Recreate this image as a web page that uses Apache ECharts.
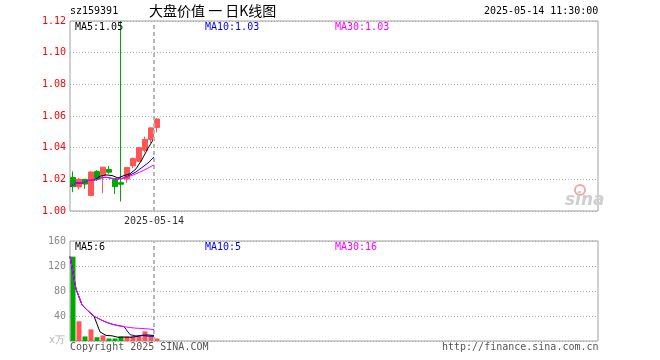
<!DOCTYPE html>
<html><head><meta charset="utf-8">
<script src="https://cdn.jsdelivr.net/npm/echarts@6/dist/echarts.min.js"></script>
<style>html,body{margin:0;padding:0;background:#fff}#c{width:660px;height:360px}</style>
</head><body><div id="c"></div>
<script>
// ---- data ----
const dates = ['2025-04-21','2025-04-22','2025-04-23','2025-04-24','2025-04-25','2025-04-28','2025-04-29','2025-04-30','2025-05-06','2025-05-07','2025-05-08','2025-05-09','2025-05-12','2025-05-13','2025-05-14'];
const opens  = [1.0212,1.0152,1.0200,1.0098,1.0250,1.0223,1.0262,1.0198,1.0179,1.0202,1.0285,1.0314,1.0383,1.0452,1.0527];
const closes = [1.0154,1.0200,1.0170,1.0246,1.0200,1.0277,1.0245,1.0154,1.0169,1.0275,1.0331,1.0400,1.0452,1.0525,1.0581];
const lows   = [1.0119,1.0135,1.0140,1.0093,1.0190,1.0113,1.0235,1.0108,1.0060,1.0177,1.0270,1.0310,1.0370,1.0430,1.0496];
const highs  = [1.0250,1.0210,1.0202,1.0250,1.0258,1.0280,1.0285,1.0200,1.1200,1.0278,1.0338,1.0405,1.0470,1.0530,1.0585];
const ma5  = [1.0154,1.0177,1.0175,1.0193,1.0194,1.0219,1.0228,1.0224,1.0209,1.0224,1.0235,1.0266,1.0325,1.0397,1.0458];
const ma10 = [1.0154,1.0177,1.0175,1.0193,1.0194,1.0208,1.0213,1.0206,1.0202,1.0209,1.0227,1.0247,1.0275,1.0303,1.0341];
const ma30 = [1.0154,1.0177,1.0175,1.0193,1.0194,1.0208,1.0213,1.0206,1.0202,1.0209,1.0220,1.0235,1.0252,1.0271,1.0292];
const volumes = [135,31.5,7.3,18.6,6,8.9,4,4,7.3,7.3,7.3,8.9,15.4,8.9,4];
const vma5  = [135,83.3,57.9,48.1,39.7,14.5,9.0,8.3,6.0,6.3,6.0,7.0,9.2,9.6,8.9];
const vma10 = [135,83.3,57.9,48.1,39.7,34.6,30.2,26.9,24.7,23.0,10.2,8.0,8.8,7.8,7.6];
const vma30 = [135,83.3,57.9,48.1,39.7,34.6,30.2,26.9,24.7,23.0,21.6,20.5,20.1,19.3,18.3];
const priceTicks = {min:1.00, max:1.12, step:0.02};
const volTicks = {min:0, max:160, step:40};
const slotCount = 88;
const markDate = '2025-05-14';
const header = {code:'sz159391', title:'大盘价值 一 日K线图', time:'2025-05-14 11:30:00'};
const priceMaText = ['MA5:1.05','MA10:1.03','MA30:1.03'];
const volMaText = ['MA5:6','MA10:5','MA30:16'];
const footer = ['Copyright 2025 SINA.COM','http://finance.sina.com.cn'];

// ---- build ----
const UP = '#ff5555', DOWN = '#00a800';
const slots = [];
for (let i = 0; i < slotCount + 1; i++) slots.push(i < dates.length ? dates[i] : 'p' + i);
const barSlots = slots.slice(0, slotCount);
const candles = dates.map((d, i) => [opens[i], closes[i], lows[i], highs[i]]);
const volBars = volumes.map((v, i) => ({value: v, itemStyle: {color: closes[i] >= opens[i] ? UP : DOWN}}));
const MONO = "'DejaVu Sans Mono', monospace";
const grid0 = {left: 70, top: 21, width: 528, height: 190};
const grid1 = {left: 70, top: 241, width: 528, height: 100};
const hidden = {show: false};
function lineS(data, color, xi, yi, z) {
  return {type: 'line', data: data, xAxisIndex: xi, yAxisIndex: yi, showSymbol: false, symbol: 'none',
    lineStyle: {color: color, width: 1}, itemStyle: {color: color}, z: z, silent: true, animation: false};
}
function txt(t, left, top, color, font, extra) {
  return Object.assign({type: 'text', left: left, top: top, style: {text: t, fill: color, font: font}, z: 100}, extra || {});
}
const markLine = {silent: true, symbol: 'none', label: {show: false},
  lineStyle: {color: '#b8b8b8', type: [4, 3], width: 2}, data: [{xAxis: markDate}]};

const chart = echarts.init(document.getElementById('c'), null, {renderer: 'canvas'});
chart.setOption({
  animation: false,
  backgroundColor: '#fff',
  grid: [
    Object.assign({show: true, borderColor: '#a0a0a0', borderWidth: 1, backgroundColor: 'transparent'}, grid0),
    Object.assign({show: true, borderColor: '#a0a0a0', borderWidth: 1, backgroundColor: 'transparent'}, grid1)
  ],
  xAxis: [
    {type: 'category', gridIndex: 0, data: barSlots, boundaryGap: true, show: false, position: 'bottom'},
    {type: 'category', gridIndex: 0, data: slots, boundaryGap: false, position: 'bottom', offset: 0,
      axisLine: hidden, axisTick: hidden, splitLine: hidden,
      axisLabel: {show: true, interval: (i, v) => v === markDate, color: '#333',
        fontFamily: MONO, fontSize: 10, margin: 5}},
    {type: 'category', gridIndex: 1, data: barSlots, boundaryGap: true, show: false, position: 'bottom'},
    {type: 'category', gridIndex: 1, data: slots, boundaryGap: false, show: false, position: 'bottom'}
  ],
  yAxis: [
    {type: 'value', gridIndex: 0, min: priceTicks.min, max: priceTicks.max, interval: priceTicks.step,
      axisLine: hidden, axisTick: hidden,
      axisLabel: {color: '#ff0000', fontFamily: MONO, fontSize: 10, margin: 4, formatter: v => v.toFixed(2)},
      splitLine: {show: true, lineStyle: {color: '#aaaaaa', type: [1, 2], width: 1}}},
    {type: 'value', gridIndex: 1, min: volTicks.min, max: volTicks.max, interval: volTicks.step,
      axisLine: hidden, axisTick: hidden,
      axisLabel: {color: '#888888', fontFamily: MONO, fontSize: 10, margin: 4,
        formatter: v => v === 0 ? '' : String(v)},
      splitLine: {show: true, lineStyle: {color: '#aaaaaa', type: [1, 2], width: 1}}}
  ],
  series: [
    {type: 'candlestick', xAxisIndex: 0, yAxisIndex: 0, data: candles, barWidth: 5,
      itemStyle: {color: UP, color0: DOWN, borderColor: UP, borderColor0: DOWN, borderWidth: 1}, z: 3},
    Object.assign(lineS(ma5, '#000000', 1, 0, 4), {markLine: markLine}),
    lineS(ma10, '#0000ff', 1, 0, 5),
    lineS(ma30, '#ff00ff', 1, 0, 6),
    {type: 'bar', xAxisIndex: 2, yAxisIndex: 1, data: volBars, barWidth: 5, z: 3, silent: true},
    Object.assign(lineS(vma5, '#000000', 3, 1, 4), {markLine: markLine}),
    lineS(vma10, '#0000ff', 3, 1, 5),
    lineS(vma30, '#ff00ff', 3, 1, 6)
  ],
  graphic: [
    txt(header.code, 70, 6, '#000', '10px ' + MONO),
    txt(header.title, 149, 4, '#000', "14px 'Noto Sans CJK SC'"),
    txt(header.time, 484, 6, '#000', '10px ' + MONO),
    txt(priceMaText[0], 75, 22, '#000', '10px ' + MONO),
    txt(priceMaText[1], 205, 22, '#0000ff', '10px ' + MONO),
    txt(priceMaText[2], 335, 22, '#ff00ff', '10px ' + MONO),
    txt(volMaText[0], 75, 242, '#000', '10px ' + MONO),
    txt(volMaText[1], 205, 242, '#0000ff', '10px ' + MONO),
    txt(volMaText[2], 335, 242, '#ff00ff', '10px ' + MONO),
    txt('x万', 49, 335, '#b0b0b0', '10px ' + MONO),
    txt(footer[0], 70, 342, '#555', '10px ' + MONO),
    txt(footer[1], 442, 342, '#555', '10px ' + MONO),
    {type: 'circle', shape: {cx: 580, cy: 190, r: 5}, style: {fill: 'none', stroke: '#f2a8a8', lineWidth: 2}, z: 1},
    txt('sina', 565, 192, '#cfcfcf', "italic bold 17px 'DejaVu Sans'", {z: 1})
  ]
});
</script>
</body></html>
